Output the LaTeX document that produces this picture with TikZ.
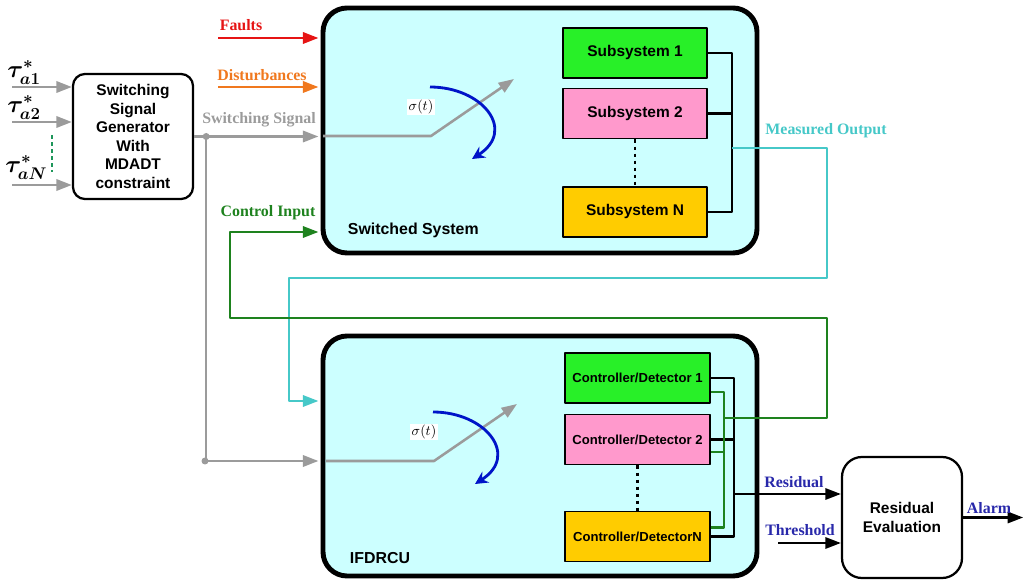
\documentclass[tikz,border=0pt]{standalone}
\usepackage{fontspec}
\setmainfont{Liberation Serif}
\setsansfont{Liberation Sans}
\usetikzlibrary{arrows.meta,calc,fit}
\definecolor{sysfill}{RGB}{204,255,255}
\definecolor{subgreen}{RGB}{40,240,40}
\definecolor{subpink}{RGB}{255,153,204}
\definecolor{suborange}{RGB}{255,204,0}
\definecolor{faultred}{RGB}{230,20,20}
\definecolor{distorange}{RGB}{240,120,30}
\definecolor{siggray}{RGB}{155,155,155}
\definecolor{meascyan}{RGB}{70,200,200}
\definecolor{ctrlgreen}{RGB}{30,130,30}
\definecolor{dotgreen}{RGB}{30,150,90}
\definecolor{lblblue}{RGB}{40,40,170}
\definecolor{arcblue}{RGB}{0,20,200}
\tikzset{
  sysbox/.style={draw,line width=3.5pt,rounded corners=0.6cm,fill=sysfill,inner sep=0pt},
  subbox/.style={draw,line width=1.4pt,minimum width=3.6cm,minimum height=1.25cm,inner sep=1pt},
  ctrlbox/.style={subbox,minimum width=3.625cm,font=\sffamily\bfseries\fontsize{9.3}{11}\selectfont},
  roundbox/.style={draw,line width=1.6pt,fill=white,align=center,minimum width=3cm},
  busline/.style={line width=1.6pt},
  sigline/.style={siggray,line width=1.8pt},
  measline/.style={meascyan,line width=1.7pt},
  ctrlline/.style={ctrlgreen,line width=1.7pt},
  arcline/.style={arcblue,line width=2pt,-{Stealth[length=9pt,width=9pt]}},
  dotline/.style={line width=1.5pt,dash pattern=on 2.5pt off 2.5pt},
  lbl/.style={font=\bfseries\fontsize{11.3}{13}\selectfont},
  taulbl/.style={anchor=south west,inner sep=0pt,font=\fontsize{17}{20}\selectfont\boldmath}
}
\begin{document}
\begin{tikzpicture}[x=0.025cm,y=-0.025cm,>={Triangle[length=11pt,width=8pt]},line join=round,
  every node/.style={font=\sffamily\bfseries\fontsize{11}{13.2}\selectfont}]
\useasboundingbox (0,0) rectangle (1025,582);
\path
(12,87) coordinate (in1)
(12,122) coordinate (in2)
(12,185) coordinate (inN)
(218,38) coordinate (f0)
(218,87) coordinate (d0)
(205,461) coordinate (tapd)
(732,0) coordinate (sb)
(732,148) coordinate (mo)
(827,148) coordinate (m1)
(827,278) coordinate (m2)
(289,278) coordinate (m3)
(289,401) coordinate (m4)
(734,0) coordinate (rb)
(723,418) coordinate (ci0)
(827,418) coordinate (g1)
(827,318) coordinate (g2)
(230,318) coordinate (g3)
(230,232) coordinate (g4)
(734,494) coordinate (res)
(778,543) coordinate (thr);
% boxes
\node[sysbox,fit={(323,8) (757,253)}] (sys) {};
\node[sysbox,fit={(323,336) (757,576)}] (ifd) {};
\node[anchor=west,font=\sffamily\bfseries\fontsize{11.3}{13}\selectfont] (syslbl) at (343,230) {Switched System};
\node[anchor=west,font=\sffamily\bfseries\fontsize{11.3}{13}\selectfont] (ifdlbl) at (345,558) {IFDRCU};
\node[subbox,fill=subgreen] (sub1) at (635,53) {Subsystem 1};
\node[subbox,fill=subpink] (sub2) at (635,113.5) {Subsystem 2};
\node[subbox,fill=suborange] (subN) at (635,212) {Subsystem N};
\node[ctrlbox,fill=subgreen] (c1) at (637.5,378) {Controller/Detector 1};
\node[ctrlbox,fill=subpink] (c2) at (637.5,439.5) {Controller/Detector 2};
\node[ctrlbox,fill=suborange] (cN) at (637.5,536.5) {Controller/DetectorN};
\node[roundbox,minimum height=3.125cm,rounded corners=0.3cm] (gen) at (133,136.5)
  {Switching\\Signal\\Generator\\With\\MDADT\\constraint};
\node[roundbox,minimum height=3.025cm,rounded corners=0.5cm] (re) at (902,517.5)
  {Residual\\Evaluation};
\draw[dotline] (sub2.south) -- (subN.north);
\draw[dotline] (c2.south) -- (cN.north);
% generator inputs
\node[taulbl] (tau1) at (7,85) {$\tau^{*}_{a1}$};
\node[taulbl] (tau2) at (7,120) {$\tau^{*}_{a2}$};
\node[taulbl] (tauN) at (5,180) {$\tau^{*}_{aN}$};
\foreach \p in {in1,in2,inN}
  \draw[sigline,->] (\p) -- (\p -| gen.west);
\draw[dotgreen,dotline] (52,135) -- (52,172);
% switching signal
\draw[sigline,->,shorten >=1.5pt] (gen.east) -- (gen.east -| sys.west);
\coordinate (tap) at ($(gen.east)+(12,0)$);
\draw[sigline] (tap) -- (tap |- tapd);
\draw[sigline,->,shorten >=1.5pt] (tapd) -- (tapd -| ifd.west);
\fill[siggray] (tap) circle (3.5) (tapd) circle (3.5);
\node[lbl,text=siggray] (swlbl) at (259,120) {Switching Signal};
\foreach \yy/\xx/\nm in {0/0/top,325/3/bot}{
  \begin{scope}[shift={(\xx,\yy)}]
    \draw[sigline,->] (323,136) -- (431,136) -- (514,79);
    \draw[arcline] (430,87) .. controls (482,87) and (517,130) .. (472,159);
    \node[fill=white,inner sep=1pt,font=\fontsize{10}{12}\selectfont] (sig\nm) at (421,107) {$\sigma(t)$};
  \end{scope}}
% faults and disturbances
\draw[faultred,line width=1.8pt,->,shorten >=1.5pt] (f0) -- (f0 -| sys.west);
\draw[distorange,line width=1.8pt,->,shorten >=1.5pt] (d0) -- (d0 -| sys.west);
\node[lbl,text=faultred] (fltlbl) at (241,25) {Faults};
\node[lbl,text=distorange] (dstlbl) at (262,75) {Disturbances};
% subsystem outputs
\draw[busline] (sub1.east) -- (sub1.east -| sb) -- (subN.east -| sb) -- (subN.east);
\draw[busline] (sub2.east) -- (sub2.east -| sb);
\draw[measline,->,shorten >=1.5pt] (mo) -- (m1) -- (m2) -- (m3) -- (m4) -- (m4 -| ifd.west);
\node[lbl,text=meascyan] (molbl) at (826,131) {Measured Output};
% controller outputs
\draw[busline] (c1.east) -- (c1.east -| rb) -- (cN.east -| rb) -- (cN.east);
\draw[busline] (c2.east) -- (c2.east -| rb);
\draw[ctrlline] ($(c1.east)+(0,14)$) -- ++(13,0) |- ($(cN.east)+(0,-9)$);
\draw[ctrlline] ($(c2.east)+(0,12.5)$) -- ++(13,0);
\draw[ctrlline,->,shorten >=1.5pt] (ci0) -- (g1) -- (g2) -- (g3) -- (g4) -- (g4 -| sys.west);
\node[lbl,text=ctrlgreen] (cilbl) at (268,213) {Control Input};
% residual evaluation
\draw[busline,->] (res) -- (res -| re.west);
\draw[busline,->] (thr) -- (thr -| re.west);
\draw[busline,->] (re.east) -- ++(60,0) coordinate (alarm);
\node[lbl,text=lblblue] (reslbl) at (794,482) {Residual};
\node[lbl,text=lblblue] (thrlbl) at (800,530) {Threshold};
\node[lbl,text=lblblue] (alrlbl) at (989,508) {Alarm};
\end{tikzpicture}
\end{document}
